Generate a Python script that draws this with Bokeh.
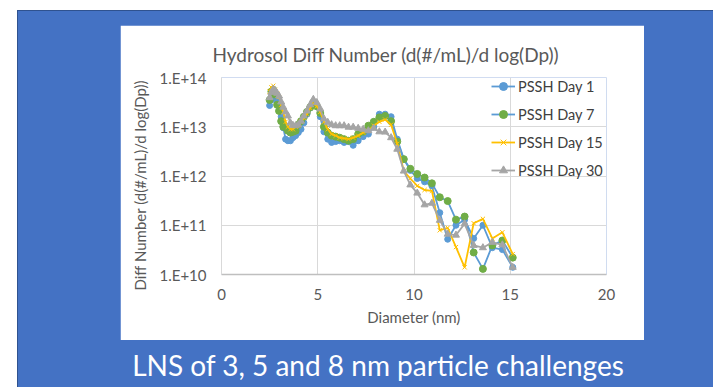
from bokeh.plotting import figure
from bokeh.models import FixedTicker, Title, Div
from bokeh.layouts import column
from bokeh.embed import file_html
from bokeh.resources import INLINE

# ---------------- data ----------------
diameter_nm = [2.50, 2.59, 2.69, 2.79, 2.89, 2.99, 3.10, 3.21, 3.33, 3.45,
               3.58, 3.71, 3.85, 3.99, 4.13, 4.28, 4.44, 4.61, 4.77, 4.95,
               5.13, 5.32, 5.52, 5.72, 5.93, 6.14, 6.37, 6.60, 6.84, 7.10,
               7.36, 7.63, 7.91, 8.20, 8.50, 8.81, 9.13, 9.47, 9.81, 10.17,
               10.55, 10.93, 11.34, 11.75, 12.18, 12.63, 13.10, 13.58, 14.07, 14.59,
               15.13]

day1 = [2.7e13, 3.5e13, 4.2e13, 3.8e13, 3.2e13, 2.8e13, 1.6e13, 9.5e12, 5.6e12, 5.2e12,
        5.2e12, 6.0e12, 6.6e12, 7.6e12, 8.9e12, 1.2e13, 1.8e13, 2.4e13, 3.2e13, 2.6e13,
        1.6e13, 7.9e12, 5.6e12, 4.8e12, 5.0e12, 5.2e12, 4.8e12, 5.0e12, 4.2e12, 5.2e12,
        6.3e12, 7.1e12, 1.0e13, 1.8e13, 1.8e13, 1.6e13, 5.6e12, 2.2e12, 1.3e12, 8.9e11,
        7.6e11, 6.3e11, 1.8e11, 5.2e10, 1.0e11, 1.3e11, 5.4e10, 1.0e11, 3.5e10, 3.2e10,
        1.4e10]

day7 = [3.5e13, 5.2e13, 5.6e13, 4.5e13, 2.8e13, 2.1e13, 1.3e13, 1.0e13, 9.8e12, 8.3e12,
        7.6e12, 7.9e12, 8.3e12, 1.1e13, 1.3e13, 1.6e13, 2.0e13, 2.5e13, 3.1e13, 2.6e13,
        1.9e13, 1.0e13, 7.6e12, 6.6e12, 6.3e12, 6.0e12, 5.6e12, 5.2e12, 5.6e12, 7.1e12,
        7.9e12, 1.05e13, 1.26e13, 1.55e13, 1.66e13, 1.3e13, 5.0e12, 2.2e12, 1.4e12, 1.1e12,
        9.3e11, 7.1e11, 3.7e11, 3.1e11, 1.3e11, 1.5e11, 2.8e10, 1.3e10, 3.9e10, 4.9e10,
        2.2e10]

day15 = [5.2e13, 6.3e13, 6.8e13, 5.6e13, 4.8e13, 4.0e13, 2.8e13, 2.0e13, 1.26e13, 1.0e13,
         8.9e12, 8.9e12, 1.0e13, 1.05e13, 1.26e13, 1.5e13, 1.8e13, 2.4e13, 3.0e13, 2.6e13,
         2.0e13, 1.26e13, 8.9e12, 7.1e12, 6.6e12, 6.0e12, 5.8e12, 5.6e12, 6.0e12, 6.6e12,
         7.6e12, 8.3e12, 1.05e13, 1.26e13, 1.4e13, 1.1e13, 4.5e12, 1.26e12, 8.9e11, 6.3e11,
         5.2e11, 5.0e11, 7.9e10, 8.9e10, 3.6e10, 1.4e10, 1.1e11, 1.35e11, 5.4e10, 7.2e10,
         2.6e10]

day30 = [3.9e13, 5.0e13, 5.8e13, 5.4e13, 4.8e13, 4.2e13, 3.2e13, 2.5e13, 2.0e13, 1.66e13,
         1.2e13, 1.07e13, 1.05e13, 1.1e13, 1.3e13, 1.66e13, 2.1e13, 2.8e13, 3.6e13, 3.1e13,
         2.3e13, 1.45e13, 1.23e13, 1.1e13, 1.05e13, 1.05e13, 1.05e13, 9.8e12, 9.8e12, 9.3e12,
         8.9e12, 8.3e12, 9.3e12, 7.9e12, 7.8e12, 6.0e12, 3.5e12, 1.26e12, 6.6e11, 4.5e11,
         2.6e11, 2.8e11, 1.26e11, 6.6e10, 6.3e10, 1.07e11, 3.9e10, 3.5e10, 4.5e10, 4.0e10,
         1.4e10]

series_names = ["PSSH Day 1", "PSSH Day 7", "PSSH Day 15", "PSSH Day 30"]

x_ticks = [0, 5, 10, 15, 20]
y_ticks = [1e10, 1e11, 1e12, 1e13, 1e14]
y_tick_labels = ["1.E+10", "1.E+11", "1.E+12", "1.E+13", "1.E+14"]

title_text = "Hydrosol Diff Number (d(#/mL)/d log(Dp))"
x_label = "Diameter (nm)"
y_label = "Diff Number (d(#/mL)/d log(Dp))"
caption = "LNS of 3, 5 and 8 nm particle challenges"

# ---------------- styles ----------------
FONT = "Lato"
SLIDE_BLUE = "#4472C4"
TXT = "#595959"
GRID = "#D9D9D9"

p = figure(width=524, height=315, output_backend="svg", toolbar_location=None,
           y_axis_type="log", x_range=(0, 20), y_range=(1e10, 1e14),
           min_border_left=101, min_border_right=38,
           min_border_top=52, min_border_bottom=66,
           border_fill_color="white", background_fill_color="white",
           outline_line_color=None, margin=(14, 0, 0, 102))

styles = [
    (day1, "#5B9BD5", "circle", "#5B9BD5", 6),
    (day7, "#5B9BD5", "circle", "#70AD47", 7),
    (day15, "#FFC000", "x", "#FFC000", 6),
    (day30, "#A5A5A5", "triangle", "#A5A5A5", 7),
]
for name, (ys, lc, mk, mc, ms) in zip(series_names, styles):
    p.line(diameter_nm, ys, line_color=lc, line_width=1.8, legend_label=name)
    p.scatter(diameter_nm, ys, marker=mk, size=ms, fill_color=mc, line_color=mc,
              legend_label=name)

# axes
p.xaxis.ticker = FixedTicker(ticks=x_ticks)
p.yaxis.ticker = FixedTicker(ticks=y_ticks)
p.yaxis.major_label_overrides = dict(zip(y_ticks, y_tick_labels))
for ax in (p.xaxis, p.yaxis):
    ax.major_tick_out = 0
    ax.major_tick_in = 0
    ax.minor_tick_out = 0
    ax.minor_tick_in = 0
    ax.major_label_text_font = FONT
    ax.major_label_text_font_size = "15px"
    ax.major_label_text_color = TXT
p.xaxis.axis_line_color = "#BFBFBF"
p.xaxis.axis_line_width = 1.5
p.yaxis.axis_line_color = GRID
p.yaxis.axis_line_width = 1
p.xaxis.major_label_standoff = 14
p.yaxis.major_label_standoff = 15
p.xaxis.axis_label = x_label
p.xaxis.axis_label_text_font = FONT
p.xaxis.axis_label_text_font_size = "15px"
p.xaxis.axis_label_text_font_style = "normal"
p.xaxis.axis_label_text_color = TXT
p.xaxis.axis_label_standoff = 5

p.xgrid.ticker = FixedTicker(ticks=x_ticks)
p.ygrid.ticker = FixedTicker(ticks=y_ticks)
p.grid.grid_line_color = GRID
p.grid.grid_line_width = 1

# title
p.title.text = title_text
p.title.align = "left"
p.title.offset = -9
p.title.vertical_align = "top"
p.title.standoff = 19
p.title.text_font = FONT
p.title.text_font_size = "19px"
p.title.text_font_style = "normal"
p.title.text_color = TXT

# y axis title (outside the tick labels)
ytitle = Title(text=y_label, align="left", offset=-16, standoff=16,
               text_font=FONT, text_font_size="15px", text_font_style="normal",
               text_color=TXT)
p.add_layout(ytitle, "left")

# legend
lg = p.legend[0]
lg.location = (270, 94)
lg.background_fill_alpha = 0
lg.border_line_color = None
lg.padding = 0
lg.margin = 0
lg.spacing = 8
lg.glyph_width = 24
lg.glyph_height = 20
lg.label_height = 20
lg.label_standoff = 3
lg.label_text_font = FONT
lg.label_text_font_size = "14.5px"
lg.label_text_color = "#404040"

cap = Div(text=caption, width=560, height=28, margin=(11, 0, 0, 80),
          styles={"color": "white", "font-family": FONT, "font-size": "28px",
                  "line-height": "28px", "text-align": "center",
                  "white-space": "nowrap"})

page = column(p, cap, width=696, height=377, margin=(10, 0, 0, 17), spacing=0,
              styles={"background-color": SLIDE_BLUE,
                      "border-top": "1px solid #2F528F",
                      "border-left": "1px solid #2F528F"})

open("out.html", "w").write(file_html(page, INLINE))
